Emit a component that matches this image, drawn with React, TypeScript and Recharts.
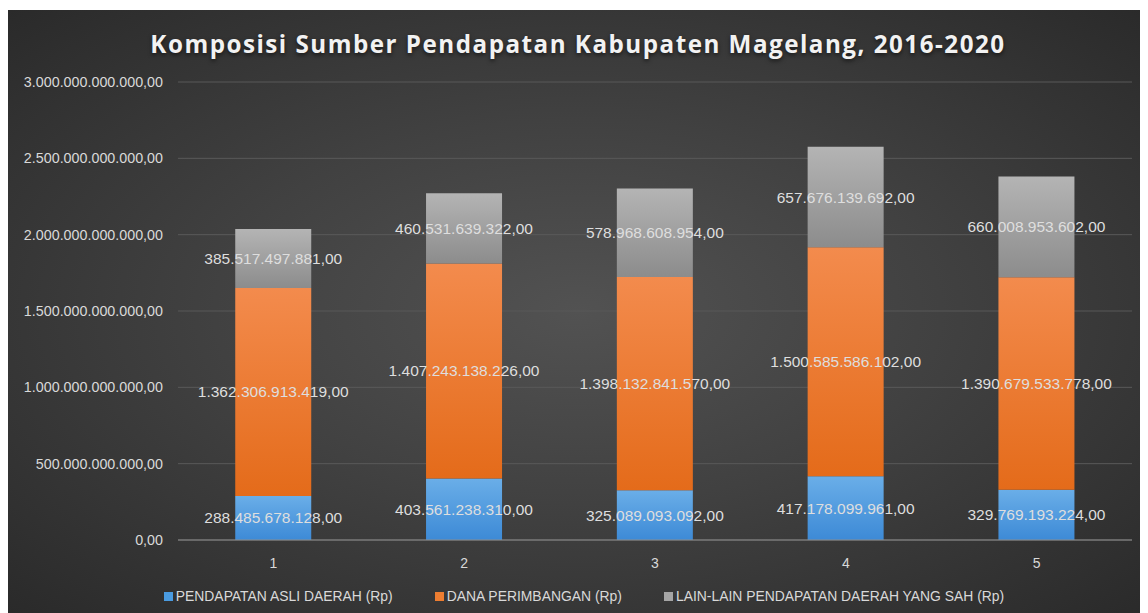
import { BarChart, Bar, XAxis, YAxis, CartesianGrid, Legend, LabelList } from 'recharts';

const categories = ['1', '2', '3', '4', '5'];
const pendapatanAsli = [288485678128, 403561238310, 325089093092, 417178099961, 329769193224];
const danaPerimbangan = [1362306913419, 1407243138226, 1398132841570, 1500585586102, 1390679533778];
const lainLain = [385517497881, 460531639322, 578968608954, 657676139692, 660008953602];
const yTicks = [0, 500000000000, 1000000000000, 1500000000000, 2000000000000, 2500000000000, 3000000000000];

const seriesNames = {
  pad: 'PENDAPATAN ASLI DAERAH (Rp)',
  dana: 'DANA PERIMBANGAN (Rp)',
  lain: 'LAIN-LAIN PENDAPATAN DAERAH YANG SAH (Rp)',
};

const chartData = categories.map((name, i) => ({
  name,
  pad: pendapatanAsli[i],
  dana: danaPerimbangan[i],
  lain: lainLain[i],
}));

// Indonesian style: dots for thousands, comma decimal
const fmt = (v: any) => {
  const s = Math.round(Number(v)).toString().replace(/\B(?=(\d{3})+(?!\d))/g, '.');
  return s + ',00';
};

const labelFont = '"Liberation Sans", Arial, sans-serif';

const legendItems = [
  { key: 'pad', color: '#4a9be0' },
  { key: 'dana', color: '#ed7d31' },
  { key: 'lain', color: '#a5a5a5' },
];

const renderLegend = () => (
  <div style={{ display: 'flex', justifyContent: 'center', gap: 42, paddingLeft: 28, fontFamily: labelFont, fontSize: 13.9, color: '#d9d9d9', height: 38, alignItems: 'center', paddingTop: 14, boxSizing: 'border-box' }}>
    {legendItems.map(item => (
      <div key={item.key} style={{ display: 'flex', alignItems: 'center' }}>
        <span style={{ width: 9, height: 9, background: item.color, display: 'inline-block', marginRight: 3 }} />
        <span>{(seriesNames as any)[item.key]}</span>
      </div>
    ))}
  </div>
);

const App = () => {
  return (
    <div
      style={{
        marginTop: 2,
        width: 1140,
        height: 603,
        position: 'relative',
        background: 'radial-gradient(ellipse at 50% 50%, #525252 0%, #414141 45%, #2a2a2a 100%)',
      }}
    >
      <div
        style={{
          position: 'absolute',
          top: 17,
          left: 0,
          width: 1140,
          textAlign: 'center',
          fontFamily: '"Open Sans", sans-serif',
          fontWeight: 700,
          fontSize: 24.2,
          letterSpacing: 1.5,
          color: '#f2f2f2',
          textShadow: '0 2px 4px rgba(0,0,0,0.6)',
        }}
      >
        Komposisi Sumber Pendapatan Kabupaten Magelang, 2016-2020
      </div>
      <BarChart
        width={1140}
        height={603}
        data={chartData}
        margin={{ top: 72, right: 16, left: 0, bottom: 5 }}
        barCategoryGap="30%"
      >
        <defs>
          <linearGradient id="gBlue" x1="0" y1="0" x2="0" y2="1">
            <stop offset="0%" stopColor="#6aaee8" />
            <stop offset="100%" stopColor="#3d8ad6" />
          </linearGradient>
          <linearGradient id="gOrange" x1="0" y1="0" x2="0" y2="1">
            <stop offset="0%" stopColor="#f38b4d" />
            <stop offset="100%" stopColor="#e46b1a" />
          </linearGradient>
          <linearGradient id="gGray" x1="0" y1="0" x2="0" y2="1">
            <stop offset="0%" stopColor="#b4b4b4" />
            <stop offset="100%" stopColor="#8c8c8c" />
          </linearGradient>
        </defs>
        <CartesianGrid vertical={false} stroke="#595959" />
        <XAxis
          dataKey="name"
          height={30}
          tickLine={false}
          tickMargin={12}
          axisLine={{ stroke: '#8c8c8c' }}
          tick={{ fill: '#d9d9d9', fontSize: 14, fontFamily: labelFont }}
        />
        <YAxis
          width={170}
          domain={[0, 3000000000000]}
          ticks={yTicks}
          interval={0}
          tickFormatter={fmt}
          axisLine={false}
          tickLine={false}
          tickMargin={9}
          tick={{ fill: '#d9d9d9', fontSize: 14.3, fontFamily: labelFont }}
        />
        <Legend verticalAlign="bottom" height={38} content={renderLegend} />
        <Bar dataKey="pad" stackId="a" fill="url(#gBlue)" name={seriesNames.pad} isAnimationActive={false}>
          <LabelList dataKey="pad" position="center" formatter={fmt} fill="#dedede" fontSize={15.5} fontFamily={labelFont} />
        </Bar>
        <Bar dataKey="dana" stackId="a" fill="url(#gOrange)" name={seriesNames.dana} isAnimationActive={false}>
          <LabelList dataKey="dana" position="center" formatter={fmt} fill="#dedede" fontSize={15.5} fontFamily={labelFont} />
        </Bar>
        <Bar dataKey="lain" stackId="a" fill="url(#gGray)" name={seriesNames.lain} isAnimationActive={false}>
          <LabelList dataKey="lain" position="center" formatter={fmt} fill="#dedede" fontSize={15.5} fontFamily={labelFont} />
        </Bar>
      </BarChart>
    </div>
  );
};

export default App;
